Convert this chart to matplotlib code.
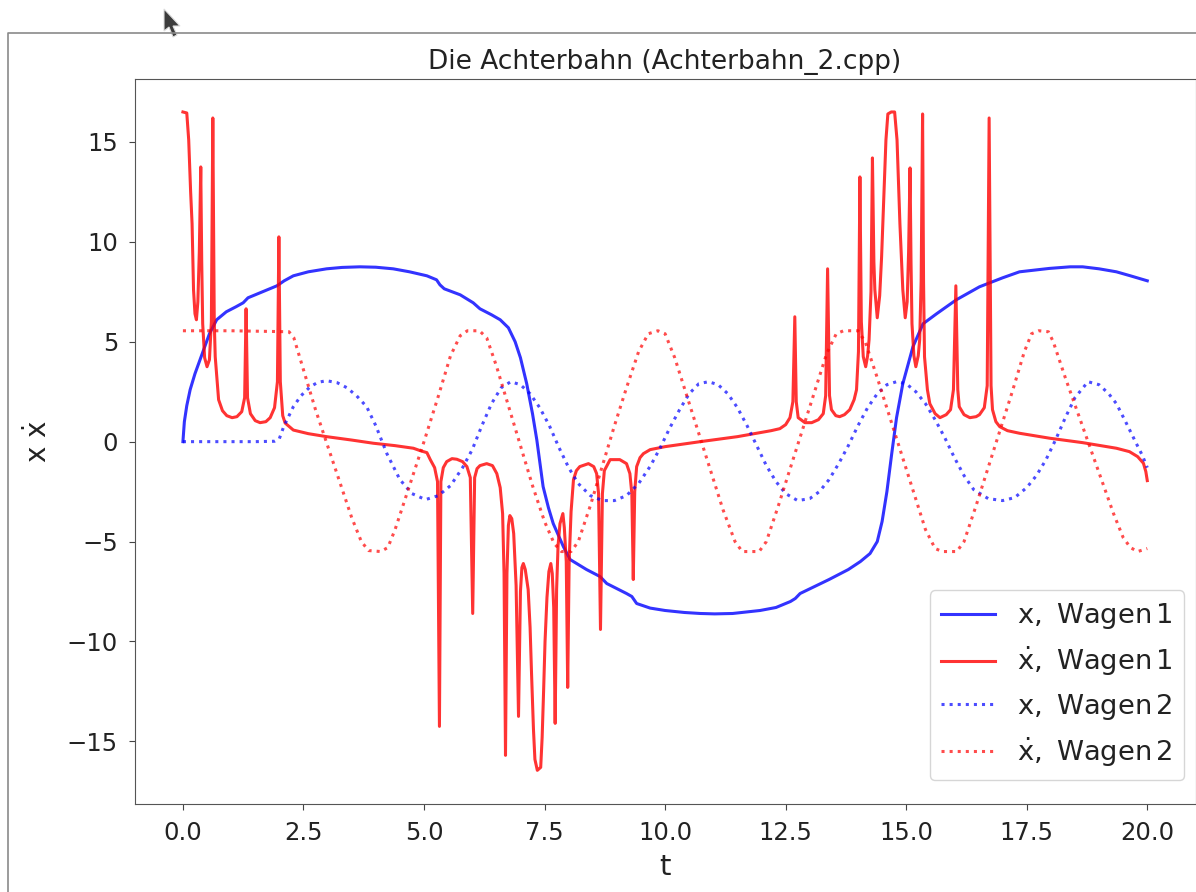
import matplotlib
matplotlib.use("Agg")
import matplotlib.pyplot as plt
from matplotlib.patches import Polygon

# x, Wagen 1 (durchgezogen blau)
t_x1 = [0, 0.03, 0.08, 0.15, 0.25, 0.43, 0.55, 0.7, 0.9, 1.1, 1.25, 1.35, 1.5, 1.7, 1.95,
        2.1, 2.29, 2.6, 2.98, 3.3, 3.67, 4.0, 4.36, 4.7, 5.06, 5.26, 5.33, 5.42, 5.75, 6.02,
        6.16, 6.4, 6.58, 6.75, 6.89, 7.0, 7.13, 7.25, 7.34, 7.47, 7.58, 7.68, 7.89, 8.03,
        8.37, 8.65, 8.79, 9.2, 9.31, 9.41, 9.69, 10.0, 10.4, 10.73, 11.03, 11.4, 11.97, 12.3,
        12.6, 12.7, 12.8, 13.1, 13.4, 13.8, 14.05, 14.25, 14.4, 14.5, 14.6, 14.7, 14.8, 14.93,
        15.14, 15.35, 15.63, 16.04, 16.52, 17.0, 17.35, 17.97, 18.4, 18.66, 19.0, 19.36, 19.65,
        20.0]
x1 = [0, 1.0, 1.8, 2.6, 3.4, 4.6, 5.4, 6.1, 6.5, 6.75, 6.95, 7.2, 7.35, 7.55, 7.8,
      8.05, 8.3, 8.5, 8.65, 8.72, 8.75, 8.73, 8.65, 8.5, 8.3, 8.1, 7.85, 7.65, 7.35, 6.95,
      6.65, 6.35, 6.1, 5.7, 5.0, 4.2, 2.9, 1.4, 0.08, -2.25, -3.3, -4.1, -5.25, -5.9,
      -6.4, -6.75, -7.1, -7.6, -7.75, -8.1, -8.33, -8.45, -8.55, -8.6, -8.62, -8.6, -8.45, -8.3,
      -8.0, -7.85, -7.6, -7.25, -6.9, -6.4, -6.0, -5.6, -5.0, -4.0, -2.5, -0.6, 1.2, 2.9,
      4.75, 5.9, 6.4, 7.1, 7.75, 8.2, 8.5, 8.67, 8.75, 8.75, 8.65, 8.5, 8.3,
      8.05]

# x-Punkt, Wagen 1 (durchgezogen rot)
t_v1 = [0, 0.08, 0.12, 0.16, 0.19, 0.22, 0.25, 0.28, 0.31, 0.34, 0.37, 0.39, 0.41, 0.45, 0.5,
        0.55, 0.59, 0.62, 0.65, 0.67, 0.74, 0.82, 0.91, 1.02, 1.12, 1.22, 1.28, 1.31, 1.34,
        1.4, 1.5, 1.6, 1.72, 1.81, 1.9, 1.96, 1.99, 2.02, 2.07, 2.12, 2.29, 2.6, 2.98, 3.5,
        3.95, 4.4, 4.78, 4.92, 5.06, 5.13, 5.22, 5.28, 5.32, 5.35, 5.4, 5.47, 5.58, 5.68, 5.8,
        5.89, 5.96, 6.01, 6.05, 6.1, 6.16, 6.3, 6.42, 6.51, 6.58, 6.63, 6.66, 6.69, 6.72, 6.75,
        6.78, 6.82, 6.86, 6.91, 6.96, 7.0, 7.03, 7.06, 7.1, 7.16, 7.2, 7.23, 7.27, 7.3, 7.35,
        7.42, 7.45, 7.48, 7.51, 7.55, 7.59, 7.63, 7.66, 7.69, 7.72, 7.75, 7.78, 7.82, 7.88,
        7.91, 7.95, 7.98, 8.01, 8.05, 8.1, 8.16, 8.23, 8.41, 8.52, 8.58, 8.62, 8.66, 8.7, 8.74,
        8.86, 9.06, 9.2, 9.27, 9.31, 9.34, 9.37, 9.41, 9.48, 9.55, 9.69, 10.0, 10.73, 11.5,
        11.97, 12.2, 12.38, 12.5, 12.59, 12.65, 12.69, 12.72, 12.76, 12.9, 13.04, 13.18, 13.28,
        13.33, 13.37, 13.41, 13.45, 13.54, 13.62, 13.72, 13.83, 13.92, 13.97, 14.01, 14.04,
        14.07, 14.11, 14.16, 14.2, 14.23, 14.27, 14.3, 14.33, 14.35, 14.4, 14.45, 14.49, 14.54,
        14.58, 14.62, 14.69, 14.76, 14.81, 14.84, 14.87, 14.93, 14.98, 15.02, 15.05, 15.08,
        15.1, 15.12, 15.16, 15.2, 15.25, 15.28, 15.31, 15.34, 15.36, 15.38, 15.44, 15.49, 15.6,
        15.7, 15.83, 15.92, 15.98, 16.03, 16.07, 16.1, 16.2, 16.32, 16.45, 16.52, 16.62, 16.68,
        16.72, 16.76, 16.79, 16.86, 16.94, 17.1, 17.35, 17.98, 18.66, 19.36, 19.63, 19.8, 19.92,
        19.97, 20.0]
v1 = [16.5, 16.45, 15.1, 12.5, 10.9, 7.6, 6.4, 6.1, 7.0, 9.5, 13.75, 9.0, 5.9, 4.2, 3.75,
      4.1, 6.0, 16.2, 6.0, 4.25, 2.1, 1.55, 1.3, 1.2, 1.25, 1.5, 2.2, 6.65, 2.2,
      1.4, 1.05, 0.95, 1.0, 1.2, 1.7, 3.0, 10.25, 3.0, 1.3, 0.93, 0.58, 0.4, 0.25, 0.08,
      -0.08, -0.2, -0.33, -0.45, -0.55, -0.9, -1.3, -2.0, -14.25, -2.0, -1.3, -1.0, -0.85, -0.88, -1.0,
      -1.25, -1.8, -8.6, -1.8, -1.35, -1.2, -1.1, -1.2, -1.6, -2.3, -3.6, -6.6, -15.7, -6.6, -4.2,
      -3.7, -3.85, -4.6, -7.2, -13.75, -7.5, -6.3, -6.1, -6.4, -7.4, -9.3, -11.6, -14.4, -15.9, -16.45,
      -16.3, -14.8, -12.5, -10.0, -7.8, -6.5, -6.1, -6.6, -8.3, -14.1, -7.4, -5.2, -4.1, -3.6,
      -4.3, -6.0, -12.3, -6.0, -3.5, -1.9, -1.45, -1.25, -1.1, -1.25, -1.6, -2.6, -9.4, -2.6, -1.45,
      -0.9, -0.9, -1.1, -1.6, -2.6, -6.9, -2.5, -1.25, -0.8, -0.6, -0.4, -0.25, 0.0, 0.25,
      0.45, 0.55, 0.65, 0.85, 1.2, 2.0, 6.25, 2.0, 1.2, 0.95, 0.95, 1.1, 1.4,
      2.3, 8.65, 2.3, 1.6, 1.3, 1.25, 1.35, 1.6, 2.1, 2.6, 4.5, 13.25,
      6.0, 4.25, 3.75, 4.3, 5.1, 7.5, 14.2, 9.0, 7.6, 6.2, 7.3, 9.25, 12.5,
      15.1, 16.4, 16.5, 16.5, 15.1, 13.0, 10.9, 7.6, 6.2, 7.0, 9.5, 13.7,
      9.0, 5.9, 4.3, 3.75, 4.3, 5.1, 8.0, 16.4, 8.0, 4.25, 2.6, 1.9, 1.4,
      1.2, 1.35, 1.6, 2.6, 7.8, 2.6, 1.75, 1.35, 1.2, 1.25, 1.35, 1.7, 2.8,
      16.2, 2.8, 1.6, 1.0, 0.75, 0.55, 0.42, 0.17, -0.05, -0.33, -0.5, -0.75, -1.08,
      -1.5, -1.95]

# x, Wagen 2 (gepunktet blau)
t_x2 = [0, 0.5, 1.0, 1.5, 1.9, 2.0, 2.09, 2.29, 2.45, 2.64, 2.8, 2.98, 3.2, 3.4, 3.6, 3.81,
        4.0, 4.23, 4.5, 4.75, 5.03, 5.3, 5.55, 5.8, 6.0, 6.2, 6.4, 6.6, 6.8, 7.0, 7.2, 7.4,
        7.6, 7.8, 8.0, 8.2, 8.45, 8.7, 8.95, 9.2, 9.45, 9.7, 9.9, 10.1, 10.3, 10.5, 10.7,
        10.9, 11.1, 11.3, 11.5, 11.7, 11.9, 12.1, 12.3, 12.5, 12.75, 13.0, 13.2, 13.4, 13.6,
        13.8, 14.0, 14.2, 14.4, 14.6, 14.8, 15.0, 15.2, 15.4, 15.6, 15.8, 16.0, 16.2, 16.4,
        16.7, 17.0, 17.25, 17.5, 17.7, 17.9, 18.1, 18.3, 18.5, 18.77, 19.0, 19.2, 19.36, 19.55,
        19.77, 19.9, 20.0]
x2 = [0, 0, 0, 0, 0.02, 0.15, 0.75, 1.75, 2.3, 2.75, 2.97, 3.05, 2.95, 2.7, 2.3, 1.75,
      0.8, -0.6, -1.9, -2.6, -2.9, -2.7, -2.2, -1.3, -0.4, 0.8, 1.9, 2.7, 3.0, 2.85, 2.4, 1.7,
      0.8, -0.3, -1.3, -2.1, -2.7, -2.95, -2.95, -2.7, -2.1, -1.2, -0.3, 0.7, 1.6, 2.4, 2.9,
      3.0, 2.85, 2.4, 1.7, 0.8, -0.2, -1.2, -2.0, -2.6, -2.95, -2.85, -2.5, -1.9, -1.1,
      -0.2, 0.8, 1.7, 2.4, 2.85, 3.0, 2.9, 2.5, 1.9, 1.1, 0.2, -0.8, -1.7, -2.4,
      -2.85, -2.95, -2.8, -2.3, -1.7, -0.9, 0.1, 1.2, 2.2, 3.0, 2.85, 2.4, 1.9, 1.0,
      -0.08, -0.7, -1.3]

# x-Punkt, Wagen 2 (gepunktet rot)
t_v2 = [0, 1.0, 2.2, 2.3, 2.5, 2.75, 3.0, 3.25, 3.5, 3.7, 3.85, 4.1, 4.25, 4.4, 4.7, 5.0,
        5.3, 5.55, 5.75, 5.9, 6.15, 6.3, 6.5, 6.75, 7.0, 7.25, 7.5, 7.7, 7.85, 8.05, 8.2,
        8.45, 8.7, 8.95, 9.2, 9.45, 9.65, 9.85, 10.0, 10.2, 10.45, 10.7, 10.95, 11.2, 11.45,
        11.6, 11.95, 12.1, 12.35, 12.6, 12.85, 13.1, 13.35, 13.55, 13.7, 14.0, 14.15, 14.4,
        14.65, 14.9, 15.15, 15.4, 15.6, 15.75, 16.05, 16.2, 16.45, 16.7, 16.95, 17.2, 17.45,
        17.6, 17.75, 17.95, 18.05, 18.3, 18.55, 18.8, 19.05, 19.3, 19.5, 19.65, 19.8, 20.0]
v2 = [5.55, 5.55, 5.5, 5.2, 3.6, 1.6, -0.2, -2.0, -3.8, -5.0, -5.45, -5.5, -5.3, -4.4, -2.2, 0.0,
      2.3, 4.3, 5.3, 5.55, 5.55, 5.2, 3.8, 1.8, -0.2, -2.2, -4.0, -5.1, -5.5, -5.5, -5.0,
      -3.2, -1.2, 0.8, 2.7, 4.5, 5.4, 5.55, 5.4, 4.2, 2.3, 0.4, -1.5, -3.4, -5.0,
      -5.5, -5.5, -5.0, -3.2, -1.3, 0.6, 2.5, 4.4, 5.4, 5.55, 5.55, 5.0, 3.2,
      1.3, -0.6, -2.5, -4.4, -5.35, -5.5, -5.5, -5.0, -3.2, -1.3, 0.6, 2.5, 4.5,
      5.4, 5.55, 5.5, 5.0, 3.2, 1.5, -0.2, -1.9, -3.6, -4.8, -5.3, -5.5, -5.35]

labels = [r'$\mathrm{x,\ Wagen\,1}$', r'$\mathrm{\dot{x},\ Wagen\,1}$',
          r'$\mathrm{x,\ Wagen\,2}$', r'$\mathrm{\dot{x},\ Wagen\,2}$']

W, H = 1196, 892
fig = plt.figure(figsize=(W / 100, H / 100), dpi=100)

# Rahmen des Notebook-Screenshots
bg = fig.add_axes([0, 0, 1, 1], zorder=0)
bg.set_xlim(0, W)
bg.set_ylim(H, 0)
bg.axis('off')
bg.plot([8, 8, W], [H, 33, 33], color='#8a8a8a', lw=1.2)
bg.add_patch(Polygon([(164, 9), (164, 31), (169, 27), (173, 37), (177, 35), (173, 26), (180, 26)],
                     closed=True, facecolor='#3c3c3c', edgecolor='#dddddd', lw=0.8))

ax_l, ax_r, ax_t, ax_b = 134.7, 1195.5, 79, 804.3
ax = fig.add_axes([ax_l / W, 1 - ax_b / H, (ax_r - ax_l) / W, (ax_b - ax_t) / H], zorder=1)
ax.plot(t_x1, x1, color='b', lw=2.2, alpha=0.8, label=labels[0])
ax.plot(t_v1, v1, color='r', lw=2.2, alpha=0.8, label=labels[1])
ax.plot(t_x2, x2, color='b', lw=2.2, ls=':', alpha=0.7, label=labels[2])
ax.plot(t_v2, v2, color='r', lw=2.2, ls=':', alpha=0.7, label=labels[3])

ax.set_xlim(-1, 21)
ax.set_ylim(-18.15, 18.15)
ax.set_xticks([0, 2.5, 5, 7.5, 10, 12.5, 15, 17.5, 20])
ax.set_yticks([-15, -10, -5, 0, 5, 10, 15])
ax.tick_params(labelsize=17.5, length=4.5, pad=7.5, colors='#444444', labelcolor='#222222')
for s in ax.spines.values():
    s.set_color('#555555')

ax.set_title('Die Achterbahn (Achterbahn_2.cpp)', fontsize=19, color='#222222', pad=7)
ax.set_xlabel('t', fontsize=21, color='#222222', labelpad=6)
ax.set_ylabel(r'$\mathrm{x}\ \dot{\mathrm{x}}$', fontsize=20, color='#222222', labelpad=10)

ax.legend(loc='lower right', fontsize=19.7, labelcolor='#222222', borderaxespad=0,
          bbox_to_anchor=((1184 - ax_l) / (ax_r - ax_l), (ax_b - 780) / (ax_b - ax_t)))

fig.savefig('out.png', dpi=100)
